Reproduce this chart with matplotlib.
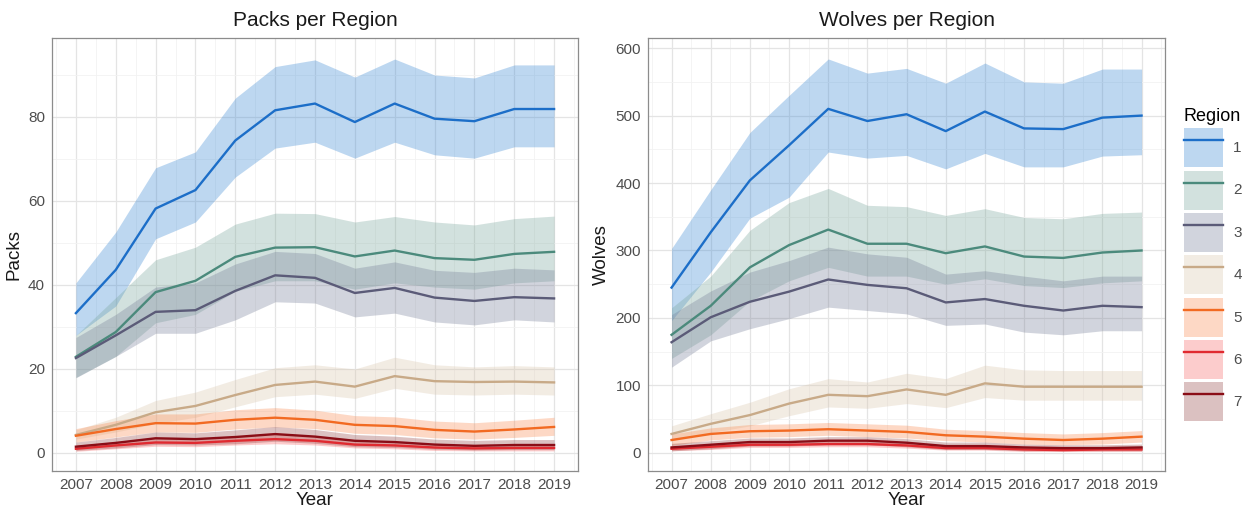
import matplotlib
matplotlib.use("Agg")
import matplotlib.pyplot as plt
from matplotlib.patches import Patch
from matplotlib.lines import Line2D
from matplotlib.ticker import MultipleLocator

years = list(range(2007, 2020))
regions = ["1", "2", "3", "4", "5", "6", "7"]

line_colors = ["#1c6ec8", "#4b8a7c", "#5b5b78", "#c8aa88", "#f26a22", "#e02a30", "#8a0d16"]
fill_colors = ["#3787d4", "#79a69b", "#767e98", "#dac6ac", "#f98a51", "#f66565", "#924545"]

# Packs per region: estimate, lower, upper
packs_mid = [
    [33.3, 43.6, 58.2, 62.6, 74.4, 81.6, 83.2, 78.8, 83.2, 79.6, 79.0, 81.9, 81.9],
    [22.9, 28.8, 38.3, 41.0, 46.7, 48.9, 49.0, 46.8, 48.2, 46.4, 46.0, 47.4, 47.9],
    [22.6, 28.0, 33.6, 34.0, 38.6, 42.3, 41.7, 38.1, 39.3, 37.0, 36.2, 37.1, 36.8],
    [4.3, 6.7, 9.7, 11.2, 13.8, 16.2, 17.0, 15.8, 18.3, 17.1, 16.9, 17.0, 16.8],
    [4.1, 5.7, 7.1, 7.0, 7.9, 8.4, 7.9, 6.7, 6.4, 5.5, 5.1, 5.6, 6.2],
    [1.0, 1.8, 2.5, 2.4, 2.9, 3.3, 2.9, 2.0, 1.8, 1.3, 1.1, 1.2, 1.2],
    [1.5, 2.4, 3.5, 3.3, 3.8, 4.5, 3.9, 2.9, 2.6, 2.0, 1.7, 1.9, 1.9],
]
packs_lo = [
    [28.0, 35.0, 51.0, 55.0, 65.7, 72.6, 74.0, 70.2, 74.0, 71.0, 70.2, 72.9, 72.9],
    [18.0, 23.0, 31.0, 33.0, 38.5, 41.0, 41.0, 39.0, 40.5, 39.5, 39.0, 40.5, 41.0],
    [17.9, 23.0, 28.5, 28.5, 31.7, 36.0, 35.7, 32.4, 33.3, 31.2, 30.5, 31.7, 31.2],
    [3.3, 5.0, 7.0, 8.5, 11.0, 13.4, 14.0, 13.0, 15.4, 14.0, 13.8, 14.0, 13.8],
    [2.6, 3.8, 5.0, 4.9, 5.7, 6.2, 5.8, 4.7, 4.4, 3.6, 3.3, 3.7, 4.2],
    [0.4, 1.0, 1.6, 1.5, 1.9, 2.2, 1.9, 1.2, 1.0, 0.6, 0.5, 0.5, 0.5],
    [0.6, 1.2, 2.0, 1.9, 2.2, 2.8, 2.3, 1.5, 1.3, 0.9, 0.7, 0.8, 0.8],
]
packs_hi = [
    [40.5, 52.6, 67.9, 71.7, 84.5, 92.0, 93.6, 89.5, 93.8, 90.0, 89.3, 92.4, 92.4],
    [28.0, 37.0, 46.0, 49.0, 54.5, 57.1, 57.0, 55.0, 56.3, 55.0, 54.3, 55.8, 56.4],
    [27.5, 33.0, 39.5, 40.5, 45.0, 48.0, 47.5, 44.0, 45.5, 43.5, 43.0, 44.0, 43.6],
    [5.5, 8.5, 12.5, 14.5, 17.5, 20.3, 21.0, 20.0, 22.8, 21.0, 20.5, 20.8, 20.5],
    [5.8, 7.7, 9.3, 9.3, 10.3, 10.8, 10.2, 8.9, 8.6, 7.6, 7.2, 7.8, 8.5],
    [1.8, 2.7, 3.5, 3.4, 4.0, 4.5, 4.0, 2.9, 2.7, 2.1, 1.9, 2.0, 2.0],
    [2.6, 3.7, 5.0, 4.8, 5.5, 6.3, 5.6, 4.4, 4.0, 3.3, 3.0, 3.2, 3.2],
]

# Wolves per region
wolves_mid = [
    [245, 327, 404, 456, 510, 492, 502, 477, 506, 481, 480, 497, 500],
    [175, 218, 275, 308, 331, 310, 310, 296, 306, 291, 289, 297, 300],
    [164, 201, 224, 239, 257, 249, 244, 223, 228, 218, 211, 218, 216],
    [28, 43, 56, 73, 86, 84, 94, 86, 103, 98, 98, 98, 98],
    [19, 28, 32, 33, 35, 33, 31, 26, 24, 21, 19, 21, 24],
    [6, 9, 12, 12, 13, 13, 11, 7, 7, 5, 4, 5, 5],
    [8, 12, 16, 16, 18, 18, 15, 10, 10, 8, 7, 7, 8],
]
wolves_lo = [
    [196, 268, 348, 379, 446, 437, 441, 421, 444, 424, 424, 440, 442],
    [140, 175, 225, 255, 275, 262, 262, 250, 258, 248, 245, 252, 255],
    [127, 166, 184, 199, 216, 211, 206, 189, 191, 179, 175, 181, 181],
    [20, 30, 40, 55, 68, 66, 73, 67, 82, 78, 78, 78, 78],
    [11, 19, 23, 24, 26, 24, 22, 18, 16, 13, 12, 13, 16],
    [3, 5, 8, 8, 9, 9, 7, 4, 4, 2, 2, 2, 2],
    [3, 6, 10, 10, 12, 12, 9, 5, 5, 3, 3, 3, 3],
]
wolves_hi = [
    [303, 390, 475, 530, 584, 563, 570, 548, 578, 550, 548, 569, 569],
    [215, 262, 330, 371, 392, 367, 365, 352, 362, 349, 347, 355, 357],
    [205, 240, 268, 285, 305, 295, 290, 265, 270, 262, 255, 262, 262],
    [40, 58, 75, 95, 110, 105, 118, 110, 130, 123, 122, 122, 122],
    [28, 37, 42, 43, 45, 43, 41, 35, 33, 30, 28, 30, 33],
    [10, 13, 16, 16, 17, 17, 15, 11, 11, 9, 8, 9, 9],
    [14, 18, 22, 22, 24, 24, 21, 16, 16, 13, 12, 12, 13],
]

text_col = "#4d4d4d"
plt.rcParams["font.family"] = "Liberation Sans"

fig = plt.figure(figsize=(12.47, 5.12), dpi=100)
ax1 = fig.add_axes([0.0417, 0.080, 0.4218, 0.8457])
ax2 = fig.add_axes([0.5197, 0.080, 0.4146, 0.8457])


def draw_panel(ax, mid, lo, hi, title, ylabel, ylim, ymajor):
    for i in range(len(regions)):
        ax.fill_between(years, lo[i], hi[i], color=fill_colors[i], alpha=0.33,
                        linewidth=0, zorder=2)
    for i in range(len(regions)):
        ax.plot(years, mid[i], color=line_colors[i], lw=1.7, zorder=3)
    ax.set_xlim(2006.4, 2019.6)
    ax.set_ylim(*ylim)
    ax.set_xticks(years)
    ax.xaxis.set_minor_locator(MultipleLocator(0.5))
    ax.yaxis.set_major_locator(MultipleLocator(ymajor))
    ax.yaxis.set_minor_locator(MultipleLocator(ymajor / 2))
    ax.grid(which="major", color="#e4e4e4", lw=0.9, zorder=0)
    ax.grid(which="minor", color="#f2f2f2", lw=0.6, zorder=0)
    ax.set_axisbelow(True)
    ax.tick_params(which="both", length=0, labelsize=11, colors=text_col, pad=5)
    for s in ax.spines.values():
        s.set_color("#8c8c8c")
        s.set_linewidth(0.9)
    ax.set_title(title, fontsize=15, color="#1a1a1a", pad=9)
    ax.set_xlabel("Year", fontsize=13.5, color="#1a1a1a", labelpad=0)
    ax.set_ylabel(ylabel, fontsize=13.5, color="#1a1a1a", labelpad=4)


draw_panel(ax1, packs_mid, packs_lo, packs_hi, "Packs per Region", "Packs", (-4.3, 98.8), 20)
draw_panel(ax2, wolves_mid, wolves_lo, wolves_hi, "Wolves per Region", "Wolves", (-27, 615), 100)

handles = [(Patch(facecolor=fill_colors[i], alpha=0.33, edgecolor="none"),
            Line2D([], [], color=line_colors[i], lw=1.7)) for i in range(len(regions))]
leg = fig.legend(handles, regions, title="Region", loc="upper left",
                 bbox_to_anchor=(0.943, 0.804), frameon=False, fontsize=11,
                 title_fontsize=13, handlelength=2.6, handleheight=3.55,
                 labelspacing=0.22, handletextpad=0.65, borderpad=0)
leg._legend_box.align = "left"
for t in leg.get_texts():
    t.set_color(text_col)

fig.savefig("out.png", dpi=100)
